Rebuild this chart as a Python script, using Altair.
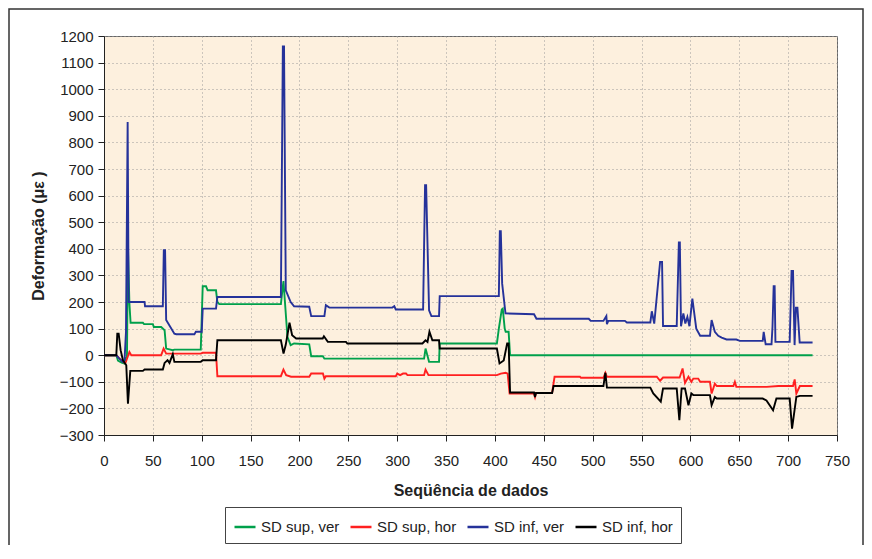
import altair as alt
import pandas as pd

series_names = ["SD sup, ver", "SD sup, hor", "SD inf, ver", "SD inf, hor"]
series_colors = ["#00A04B", "#FF2020", "#25329A", "#000000"]

x_ticks = list(range(0, 751, 50))
y_ticks = list(range(-300, 1201, 100))

# SD sup, ver (green)
sd_sup_ver = [(0, 0), (12.6, 0), (14.3, -20), (18, -28), (21, -31), (21.8, -13), (23.5, -5),
              (24.5, 407), (26, 194), (27.2, 122), (39.8, 122), (41, 117), (50, 117), (51, 106),
              (58.5, 106), (62, 94), (63.6, 25), (70.4, 19), (72, 21), (99, 21), (101, 259),
              (104.4, 259), (106, 244), (114.6, 244), (116, 200), (118, 192), (181, 192),
              (183.6, 279), (187.7, 69), (191, 38), (194.5, 44), (210, 41), (212, -4), (224, -4),
              (225.5, -13), (327.5, -13), (329, 25), (332.6, -25), (342.8, -25), (343.5, 44),
              (402, 44), (404, 100), (407, 172), (408, 175), (410, 100), (411, 88), (414, 88),
              (415.5, 0), (725, 0)]

# SD sup, hor (red)
sd_sup_hor = [(0, 0), (12.6, 0), (16, -13), (21.8, -31), (26, 12), (27.9, 0), (58.5, 0), (61, 25),
              (63.6, 6), (99, 6), (101, 9), (114.6, 9), (116, -79), (181, -79), (183.6, -54),
              (186.4, -75), (191.5, -81), (210, -81), (212, -69), (224, -69), (225.5, -88),
              (227, -79), (298.6, -79), (300, -69), (303, -75), (306, -69), (309, -69),
              (310.5, -75), (327.5, -75), (329, -54), (332, -75), (402, -75), (406, -69),
              (411, -66), (413, -69), (415, -144), (440, -144), (441, -157), (442, -142),
              (458.5, -142), (461, -81), (487, -81), (488, -85), (511, -85), (513, -66),
              (514.6, -81), (565.6, -81), (569, -96), (572, -84), (589, -84), (592, -50),
              (594.5, -104), (598, -81), (601, -100), (603, -88), (608, -88), (610, -100),
              (620, -100), (621.7, -144), (625, -107), (627, -116), (644, -116), (645.5, -100),
              (647, -119), (678, -119), (690, -116), (705, -116), (706.7, -91), (708.4, -144),
              (712, -116), (725, -116)]

# SD inf, ver (blue)
sd_inf_ver = [(0, 0), (12.6, 0), (15, -10), (19, -25), (21, -20), (22.5, 88), (24.2, 877),
              (25.2, 200), (41.5, 200), (42, 184), (60.2, 184), (61.2, 395), (62.5, 395),
              (63.6, 132), (72, 81), (74, 79), (92.5, 79), (94, 88), (100, 88), (101, 175),
              (114.6, 175), (116, 219), (181, 219), (183, 1161), (184.2, 1161), (186, 244),
              (191, 200), (194.5, 184), (210, 182), (212, 147), (225.5, 147), (227, 188),
              (230.6, 179), (295, 179), (297, 184), (298.6, 172), (326.5, 172), (328.5, 639),
              (329.6, 639), (332.6, 169), (335, 147), (342.8, 147), (343.5, 222), (404, 222),
              (405, 466), (406, 466), (407.4, 269), (410.8, 157), (440, 154), (442.5, 137),
              (496, 137), (498, 129), (511, 129), (514, 147), (514.6, 117), (516, 129), (533, 129),
              (535, 123), (559, 123), (560.5, 165), (563, 119), (569, 351), (571, 351), (572, 110),
              (586, 110), (588.2, 424), (589.2, 424), (590.4, 109), (592.8, 157), (594.8, 119),
              (596.9, 144), (599, 109), (602, 213), (606, 100), (610, 73), (620, 73), (621.7, 132),
              (625, 88), (628.5, 73), (632, 66), (637, 59), (647, 59), (650.6, 54), (674, 54),
              (675, 88), (677, 41), (683, 41), (684, 107), (685.2, 259), (686.2, 259), (687, 50),
              (701.6, 50), (703.5, 317), (705, 317), (706.6, 38), (708, 179), (709.5, 179),
              (711.8, 48), (725, 48)]

# SD inf, hor (black)
sd_inf_hor = [(0, 0), (12.6, 0), (13.6, 81), (15, 81), (17, 19), (19.4, -19), (22.8, -38),
              (24.5, -182), (26.9, -59), (39.8, -59), (41.5, -54), (60.2, -54), (62, -29),
              (65, -19), (67, -29), (70.4, 4), (72, -25), (99, -25), (101, -19), (114.6, -19),
              (116, 56), (181, 56), (183.7, 6), (186, 40), (189.8, 122), (192.5, 75), (196.6, 63),
              (223.8, 63), (225, 71), (229, 50), (247.6, 50), (249, 44), (325.8, 44), (329, 56),
              (331, 50), (333, 88), (336, 56), (342.8, 56), (343.5, 25), (402, 25), (404.7, -31),
              (409, -20), (412.5, 44), (414, 44), (415.5, -140), (440, -140), (441, -157),
              (442, -142), (458.5, -142), (460, -116), (511, -116), (513, -66), (514.6, -122),
              (559, -122), (562, -144), (569.7, -175), (572, -125), (586, -125), (588.7, -244),
              (591, -125), (594.5, -125), (598, -188), (601, -144), (603, -150), (620, -150),
              (621.7, -188), (625, -157), (627, -163), (674, -163), (677.8, -170), (684.6, -207),
              (688, -163), (701.6, -163), (704, -276), (708.4, -157), (712, -153), (725, -153)]

all_series = [sd_sup_ver, sd_sup_hor, sd_inf_ver, sd_inf_hor]

frames = []
for name, pts in zip(series_names, all_series):
    frames.append(pd.DataFrame({"x": [p[0] for p in pts],
                                "y": [p[1] for p in pts],
                                "serie": name}))
data = pd.concat(frames, ignore_index=True)

FONT = "Liberation Sans"

x_enc = alt.X("x:Q", scale=alt.Scale(domain=[0, 750], nice=False),
              axis=alt.Axis(values=x_ticks, format="d", title="Seqüência de dados",
                            labelFlush=False, labelOverlap=False,
                            labelPadding=12, titleY=60, titleBaseline="alphabetic"))
y_enc = alt.Y("y:Q", scale=alt.Scale(domain=[-300, 1200], nice=False),
              axis=alt.Axis(values=y_ticks, format="d", title="Deformação (με )", labelPadding=5,
                            labelFlush=False, labelOverlap=False,
                            titleX=-61, titleY=199.5, titleAngle=-90,
                            titleBaseline="alphabetic", titleAlign="center"))
color_enc = alt.Color("serie:N",
                      scale=alt.Scale(domain=series_names, range=series_colors),
                      title=None,
                      legend=alt.Legend(orient="none", legendX=121, legendY=471,
                                        direction="horizontal", symbolType="stroke",
                                        symbolSize=441, symbolStrokeWidth=2.5,
                                        labelFont=FONT, labelFontSize=15, labelColor="#222",
                                        labelOffset=4, columnPadding=5, padding=8,
                                        strokeColor="#444", fillColor="#ffffff"))

layers = []
for name in series_names:
    layers.append(
        alt.Chart(data)
        .transform_filter(alt.datum.serie == name)
        .mark_line(strokeWidth=1.9)
        .encode(x=x_enc, y=y_enc, color=color_enc)
    )

frame = alt.Chart(pd.DataFrame({"a": [0]})).mark_rect(
    fillOpacity=0, stroke="#333", strokeWidth=1.5
).encode(x=alt.value(-95), x2=alt.value(759), y=alt.value(-27), y2=alt.value(620))

chart = alt.layer(*layers, frame).properties(
    width=733, height=399,
    autosize=alt.AutoSizeParams(type="none"),
    padding={"left": 96, "top": 28, "right": 27, "bottom": 110},
    background="#ffffff",
).configure_view(
    fill="#FDF0DE", stroke="#666", strokeWidth=1
).configure_axis(
    labelFont=FONT, labelFontSize=15, labelColor="#222",
    titleFont=FONT, titleFontSize=16, titleFontWeight="bold", titleColor="#222",
    domainColor="#222", tickColor="#222", tickSize=6,
    gridColor="#9a9a9a", gridDash=[1, 3], gridWidth=1,
)

chart.save("out.html", embed_options={"renderer": "svg", "actions": False})
